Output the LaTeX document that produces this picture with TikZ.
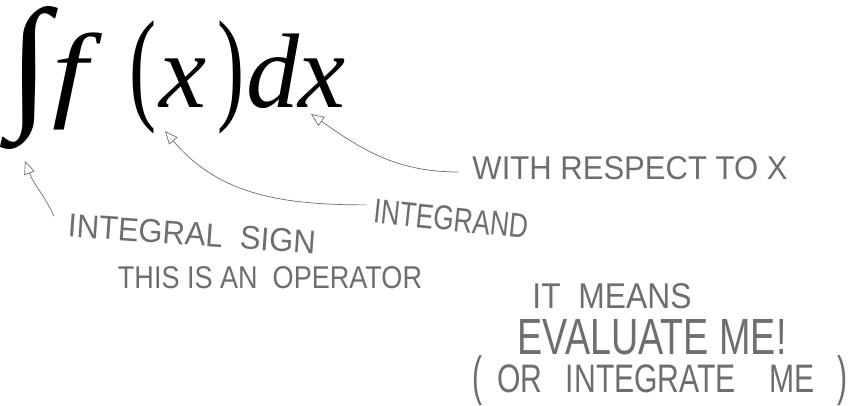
\documentclass[tikz,border=0pt]{standalone}
\usepackage{fontspec}
\usepackage{graphicx}
\usetikzlibrary{arrows.meta,positioning}
\setmainfont{Liberation Serif}
\newfontfamily\handfont{Liberation Sans}
\definecolor{pencil}{RGB}{110, 110, 110}
\newcommand{\handtext}[3]{\resizebox{#1}{#2}{#3}}
\newcommand{\bigparen}[1]{{\fontsize{125}{125}\selectfont\upshape\scalebox{0.65}[1]{#1}}}
\newcommand{\tallparen}[1]{\raisebox{-0.06em}{\scalebox{1}[1.35]{#1}}}

\begin{document}
\begin{tikzpicture}[x=1pt, y=1pt,
    formula/.style={inner sep=0pt, text=black},
    note/.style={inner sep=0pt, text=pencil, font=\handfont},
    pencilarrow/.style={-{Triangle[open, length=13pt, width=11pt]}, pencil, line width=0.7pt}]
    \fill[white] (0,0) rectangle (863,-405);
    \useasboundingbox (0,0) rectangle (863,-405);

    % the integral
    \node[formula, anchor=south west] (intsign) at (8,-150) {\resizebox*{42pt}{143pt}{∫}};
    \node[formula, anchor=base west] (fx) at (52,-107)
        {\fontsize{106}{106}\selectfont\itshape\scalebox{1.2}[1]{f}\kern42pt\bigparen{(}\kern3pt x\kern11pt\bigparen{)}\kern2pt d\kern-1pt x};

    % tips of the arrows
    \coordinate (signtip) at (25,-161);
    \coordinate (xtip) at (165,-131);
    \coordinate (dxtip) at (311,-114);

    % notes
    \node[note] (wrtlbl) at (630,-168) {\handtext{315pt}{23pt}{WITH RESPECT TO X}};
    \node[note, rotate=-6] (intlbl) at (451,-219) {\handtext{155pt}{24pt}{INTEGRAND}};
    \node[note, rotate=-4] (signlbl) at (192,-234) {\handtext{248pt}{23pt}{INTEGRAL\ \ SIGN}};
    \node[note] (oplbl) at (270,-278) {\handtext{304pt}{22pt}{THIS IS AN\ \ OPERATOR}};
    \node[note] (meanslbl) at (612,-296) {\handtext{159pt}{25pt}{IT\ \ MEANS}};
    \node[note] (evallbl) at (652,-337) {\handtext{269pt}{35pt}{EVALUATE ME!}};
    \node[note] (orlbl) at (660,-381)
        {\resizebox*{375pt}{50pt}{\tallparen{(}\hspace{0.5em}OR\hspace{0.77em}INTEGRATE\hspace{1.1em}ME\hspace{0.77em}\tallparen{)}}};

    % connectors
    \draw[pencilarrow] ([xshift=-14pt,yshift=9pt]signlbl.west) to[out=115, in=-70] (signtip);
    \draw[pencilarrow] ([xshift=-7pt,yshift=6pt]intlbl.west) to[out=180, in=-50] (xtip);
    \draw[pencilarrow] ([xshift=-14pt,yshift=-4pt]wrtlbl.west) to[out=180, in=-35] (dxtip);
\end{tikzpicture}
\end{document}
